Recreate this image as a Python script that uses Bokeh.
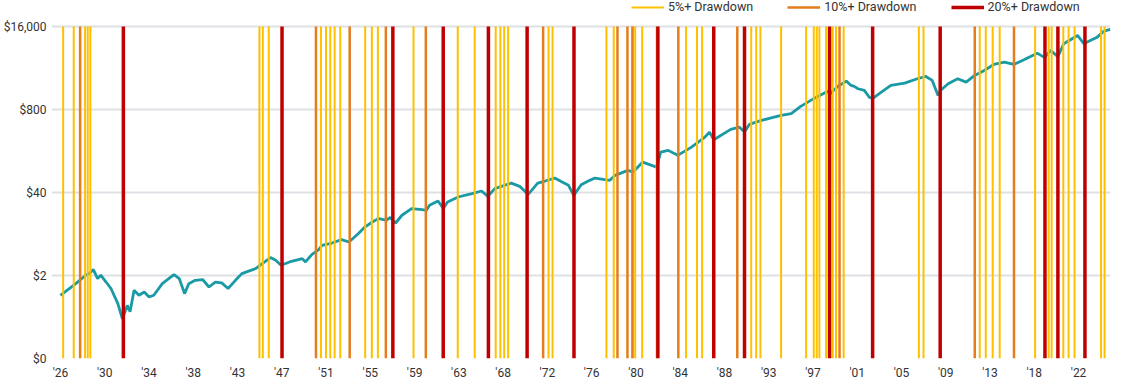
import numpy as np
from bokeh.plotting import figure
from bokeh.models import (Range1d, FixedTicker, Legend, LegendItem,
                          ColumnDataSource, CustomJSTickFormatter)
from bokeh.embed import file_html
from bokeh.resources import INLINE

# ---- growth of $1 (decimal year, dollars) ----
years = [1926.0, 1927.44, 1928.38, 1928.8, 1929.1, 1929.5, 1929.8, 1930.3, 1930.76,
         1931.4, 1931.84, 1932.1, 1932.3, 1932.56, 1932.94, 1933.4, 1933.9, 1934.35,
         1934.8, 1935.6, 1936.7, 1937.2, 1937.7, 1938.1, 1938.7, 1939.4, 1940.0,
         1940.6, 1941.2, 1941.8, 1942.5, 1943.1, 1944.4, 1945.8, 1946.3, 1946.8,
         1947.6, 1948.8, 1949.1, 1949.72, 1950.35, 1950.66, 1951.6, 1952.5, 1953.2,
         1954.1, 1954.7, 1955.4, 1956.0, 1956.7, 1957.1, 1957.6, 1958.2, 1959.1,
         1960.1, 1960.5, 1960.8, 1961.6, 1962.1, 1962.5, 1963.5, 1964.8, 1965.7,
         1966.3, 1966.95, 1968.5, 1969.3, 1970.1, 1971.0, 1971.7, 1972.6, 1973.3,
         1973.9, 1974.4, 1975.1, 1975.9, 1976.4, 1977.8, 1978.3, 1979.5, 1980.0,
         1980.9, 1982.2, 1982.6, 1983.3, 1984.2, 1985.5, 1986.7, 1987.2, 1987.6,
         1989.2, 1990.0, 1990.5, 1990.95, 1992.1, 1993.95, 1994.9, 1995.8, 1997.1,
         1998.35, 1998.55, 1998.9, 1999.3, 2000.1, 2000.55, 2000.85, 2001.2, 2001.8,
         2002.3, 2002.7, 2003.4, 2004.3, 2005.6, 2006.8, 2007.6, 2008.2, 2008.75,
         2009.0, 2009.7, 2010.6, 2011.4, 2012.2, 2013.1, 2014.0, 2015.0, 2015.9,
         2016.85, 2018.1, 2018.8, 2019.35, 2020.05, 2020.6, 2021.9, 2022.5, 2023.1,
         2023.75, 2024.4, 2025.0]
values = [0.98, 1.49, 2.02, 2.2, 2.48, 1.79, 2.02, 1.58, 1.25,
          0.73, 0.42, 0.55, 0.68, 0.54, 1.17, 0.98, 1.10, 0.92,
          0.98, 1.49, 2.07, 1.79, 1.04, 1.49, 1.68, 1.73, 1.32,
          1.58, 1.53, 1.25, 1.68, 2.14, 2.57, 3.82, 3.46, 2.89,
          3.26, 3.68, 3.26, 4.3, 5.1, 5.95, 6.46, 7.3, 6.7,
          9.1, 11.5, 13.8, 15.6, 14.7, 16.2, 13.3, 17.6, 22.4,
          21.5, 21.0, 25.2, 29.4, 22.4, 28.4, 34.0, 38.4, 42.2,
          34.8, 45.9, 56.2, 50.0, 37.4, 56.0, 60.5, 67.4, 58.3,
          51.8, 36.1, 53.0, 62.0, 67.4, 62.0, 74.3, 89.0, 83.6,
          120, 100, 172, 183, 153, 206, 289, 354, 269,
          390, 424, 354, 467, 540, 646, 687, 894, 1205,
          1552, 1380, 1600, 1840, 2230, 1906, 1840, 1693, 1593,
          1224, 1224, 1499, 1906, 2070, 2427, 2636, 2285, 1330,
          1600, 2028, 2427, 2148, 2735, 3273, 4064, 4416, 4064,
          4820, 6110, 5200, 6740, 5400, 8580, 11580, 8580, 9670,
          10890, 13520, 14370]

# ---- drawdown markers (decimal year) ----
dd5 = [1926.25, 1927.25, 1928.32, 1928.57, 1928.82, 1944.76, 1945.08, 1945.64,
       1950.56, 1951.04, 1951.44, 1951.85, 1952.38, 1954.73, 1955.36, 1955.93,
       1959.29, 1963.46, 1965.06, 1967.04, 1967.48, 1967.84, 1968.21, 1972.02,
       1972.4, 1977.48, 1978.17, 1979.95, 1980.19, 1980.85, 1982.21, 1984.99,
       1986.02, 1986.5, 1991.13, 1991.6, 1992.0, 1993.95, 1996.31, 1997.03,
       1997.31, 1997.56, 1998.19, 1998.82, 1999.13, 1999.85, 2006.94, 2007.38,
       2012.68, 2013.25, 2013.9, 2014.56, 2017.9, 2019.18, 2019.46, 2020.56,
       2021.06, 2021.62, 2024.12, 2024.45]
dd10 = [1927.85, 1950.09, 1953.27, 1956.68, 1960.45, 1971.51, 1978.52, 1979.46,
        1979.93, 1984.26, 1989.82, 1999.46, 2012.21, 2015.91]
dd20 = [1931.93, 1946.89, 1957.34, 1962.09, 1966.35, 1970.0, 1974.42, 1982.33,
        1987.6, 1990.5, 1998.52, 2002.58, 2008.95, 2018.83, 2020.05, 2022.6]

x_tick_labels = ["'26", "'30", "'34", "'38", "'43", "'47", "'51", "'55", "'59",
                 "'63", "'68", "'72", "'76", "'80", "'84", "'88", "'93", "'97",
                 "'01", "'05", "'09", "'13", "'18", "'22"]
y_ticks = [0.1, 2, 40, 800, 16000]
y_tick_labels = ["$0", "$2", "$40", "$800", "$16,000"]

x_ticks = [float(v) for v in np.linspace(1926, 2022, len(x_tick_labels))]
Y0, Y1 = y_ticks[0], y_ticks[-1]

# layout (pixels)
W, H = 1121, 383
B_LEFT, B_RIGHT, B_BOTTOM = 49, 11, 25
TOP_GAP = 26            # space above the $16,000 line for the legend
FRAME_H = H - B_BOTTOM
px_per_dec = (FRAME_H - TOP_GAP) / np.log10(Y1 / Y0)
Y_TOP = Y1 * 10 ** (TOP_GAP / px_per_dec)
LEG_H = 14

FONT = "Roboto"
TXT = "#333333"

p = figure(width=W, height=H, x_range=Range1d(1925.153, 2025.01),
           y_range=Range1d(Y0, Y_TOP), y_axis_type="log",
           output_backend="svg", toolbar_location=None,
           min_border_left=B_LEFT, min_border_right=B_RIGHT, min_border_top=0,
           min_border_bottom=B_BOTTOM)
p.outline_line_color = None
p.background_fill_color = "white"
p.xgrid.visible = False

yt = FixedTicker(ticks=y_ticks, minor_ticks=[])
p.yaxis.ticker = yt
p.ygrid.ticker = yt
p.ygrid.grid_line_color = "#dde1e6"
p.ygrid.grid_line_width = 2

p.yaxis.formatter = CustomJSTickFormatter(
    args=dict(yvals=y_ticks, ylabs=y_tick_labels),
    code="""
    let best = 0, bd = 1e99;
    for (let i = 0; i < yvals.length; i++) {
        const d = Math.abs(Math.log(tick) - Math.log(yvals[i]));
        if (d < bd) { bd = d; best = i; }
    }
    return ylabs[best];
    """)
xt = FixedTicker(ticks=x_ticks, minor_ticks=[])
p.xaxis.ticker = xt
p.xaxis.formatter = CustomJSTickFormatter(
    args=dict(xvals=x_ticks, xlabs=x_tick_labels),
    code="""
    let best = 0, bd = 1e99;
    for (let i = 0; i < xvals.length; i++) {
        const d = Math.abs(tick - xvals[i]);
        if (d < bd) { bd = d; best = i; }
    }
    return xlabs[best];
    """)

for ax in (p.xaxis, p.yaxis):
    ax.axis_line_color = None
    ax.major_tick_line_color = None
    ax.minor_tick_line_color = None
    ax.major_tick_out = 0
    ax.major_tick_in = 0
    ax.minor_tick_out = 0
    ax.minor_tick_in = 0
    ax.major_label_text_font = FONT
    ax.major_label_text_font_size = "12px"
    ax.major_label_text_color = TXT
p.yaxis.major_label_standoff = 5
p.xaxis.major_label_standoff = 7

# growth line
src = ColumnDataSource(dict(x=years, y=values))
p.line("x", "y", source=src, line_color="#1a9aa4", line_width=2.8)

items = []
for vals, color, width, label in [(dd5, "#FFC000", 2, "5%+ Drawdown"),
                                  (dd10, "#E57D1E", 2.5, "10%+ Drawdown"),
                                  (dd20, "#C00000", 3.5, "20%+ Drawdown")]:
    s = ColumnDataSource(dict(x=vals, y0=[Y0] * len(vals), y1=[Y1] * len(vals)))
    r = p.segment(x0="x", x1="x", y0="y0", y1="y1", source=s,
                  line_color=color, line_width=width)
    items.append(LegendItem(label=label, renderers=[r]))

legend = Legend(items=items, orientation="horizontal",
                location=(580, FRAME_H - LEG_H),
                label_text_font=FONT, label_text_font_size="12.5px",
                label_text_color=TXT, glyph_width=33, glyph_height=12,
                label_height=12, label_standoff=4, spacing=34, padding=0,
                margin=0, border_line_color=None, background_fill_alpha=0)
p.add_layout(legend, "center")

open("out.html", "w").write(file_html(p, INLINE))
